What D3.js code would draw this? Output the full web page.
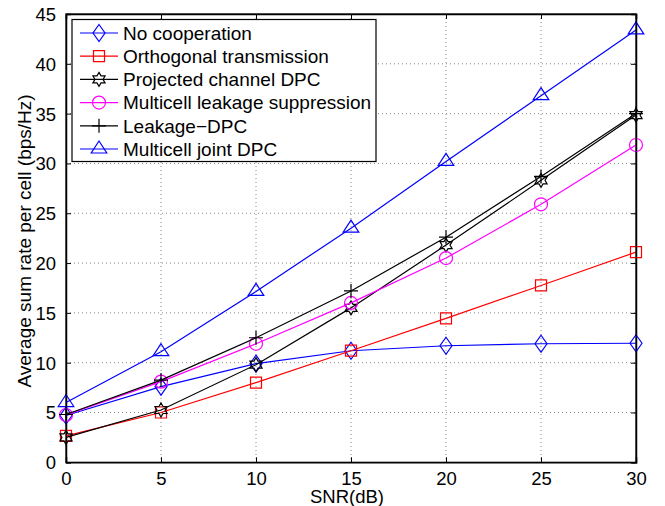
<!DOCTYPE html>
<html><head><meta charset="utf-8">
<script src="https://cdn.jsdelivr.net/npm/d3@7"></script>
<style>body{margin:0;background:#fff}svg{display:block}text{font-family:"Liberation Sans",Arial,sans-serif;fill:#000}</style>
</head><body>
<script>
const snr = [0, 5, 10, 15, 20, 25, 30];
const noCooperation = [4.7, 7.6, 9.9, 11.2, 11.7, 11.9, 11.95];
const orthogonal = [2.65, 5.0, 8.0, 11.2, 14.45, 17.75, 21.1];
const projectedDPC = [2.5, 5.25, 9.8, 15.5, 21.8, 28.3, 34.85];
const leakageSuppression = [4.75, 8.1, 11.9, 16.0, 20.5, 25.9, 31.85];
const leakageDPC = [4.8, 8.25, 12.5, 17.2, 22.6, 28.7, 35.0];
const jointDPC = [6.0, 11.1, 17.15, 23.5, 30.2, 36.8, 43.4];
const seriesNames = ["No cooperation","Orthogonal transmission","Projected channel DPC","Multicell leakage suppression","Leakage\u2212DPC","Multicell joint DPC"];
const xTicks = [0,5,10,15,20,25,30];
const yTicks = [0,5,10,15,20,25,30,35,40,45];

const W = 665, H = 506;
const L = 66, R = 636, T = 14, B = 462.3;
const svg = d3.select("body").append("svg").attr("width", W).attr("height", H);
const x = d3.scaleLinear().domain([0,30]).range([L,R]);
const y = d3.scaleLinear().domain([0,45]).range([B,T]);

// grid
const g = svg.append("g");
g.selectAll(".gx").data(xTicks.slice(1,-1)).enter().append("line")
  .attr("x1",d=>x(d)).attr("x2",d=>x(d)).attr("y1",T).attr("y2",B)
  .attr("stroke","#888").attr("stroke-width",1).attr("stroke-dasharray","1,3");
g.selectAll(".gy").data(yTicks.slice(1,-1)).enter().append("line")
  .attr("y1",d=>y(d)).attr("y2",d=>y(d)).attr("x1",L).attr("x2",R)
  .attr("stroke","#888").attr("stroke-width",1).attr("stroke-dasharray","1,3");

// axes
const fs = "18.5px";
const ax = svg.append("g").attr("transform",`translate(0,${B})`).call(d3.axisBottom(x).tickValues(xTicks).tickSize(-5).tickPadding(10));
const axT = svg.append("g").attr("transform",`translate(0,${T})`).call(d3.axisTop(x).tickValues(xTicks).tickSize(-5).tickFormat(""));
const ay = svg.append("g").attr("transform",`translate(${L},0)`).call(d3.axisLeft(y).tickValues(yTicks).tickSize(-5).tickPadding(10));
const ayR = svg.append("g").attr("transform",`translate(${R},0)`).call(d3.axisRight(y).tickValues(yTicks).tickSize(-5).tickFormat(""));
[ax,axT,ay,ayR].forEach(a=>{
  a.select(".domain").attr("stroke","#000").attr("stroke-width",1.5);
  a.selectAll(".tick line").attr("stroke","#000");
  a.selectAll("text").style("font-size",fs).style("font-family","'Liberation Sans',Arial,sans-serif").attr("fill","#000");
});
ax.selectAll("text").attr("dy","0.71em");
ay.selectAll("text").attr("dy","0.35em");

svg.append("text").attr("x",347).attr("y",503).attr("text-anchor","middle").style("font-size","18.5px").text("SNR(dB)");
svg.append("text").attr("transform","translate(31,241) rotate(-90)").attr("text-anchor","middle").style("font-size","19px").text("Average sum rate per cell (bps/Hz)");

// markers
function hexagram(r){
  const ri = r/Math.sqrt(3); let p=[];
  for(let i=0;i<12;i++){const a=-Math.PI/2+i*Math.PI/6; const rr=i%2?ri:r; p.push([rr*Math.cos(a), rr*Math.sin(a)]);}
  return "M"+p.map(q=>q[0].toFixed(2)+","+q[1].toFixed(2)).join("L")+"Z";
}
const markers = {
  diamond: "M0,-8.5L6,0L0,8.5L-6,0Z",
  square: "M-5.5,-5.5H5.5V5.5H-5.5Z",
  hexagram: hexagram(7),
  circle: d3.arc()({innerRadius:0,outerRadius:6.5,startAngle:0,endAngle:2*Math.PI}),
  plus: "M-7,0H7M0,-7V7",
  triangle: "M0,-8L7.8,4H-7.8Z"
};
const series = [
  {name:seriesNames[0], values:noCooperation, color:"#0000ff", marker:"diamond"},
  {name:seriesNames[1], values:orthogonal, color:"#ff0000", marker:"square"},
  {name:seriesNames[2], values:projectedDPC, color:"#000000", marker:"hexagram"},
  {name:seriesNames[3], values:leakageSuppression, color:"#ff00ff", marker:"circle"},
  {name:seriesNames[4], values:leakageDPC, color:"#000000", marker:"plus"},
  {name:seriesNames[5], values:jointDPC, color:"#0000ff", marker:"triangle"}
];
const line = d3.line().x((d,i)=>x(snr[i])).y(d=>y(d));
series.forEach(s=>{
  svg.append("path").attr("d",line(s.values)).attr("fill","none").attr("stroke",s.color).attr("stroke-width",1.2);
  svg.selectAll(null).data(s.values).enter().append("path")
    .attr("transform",(d,i)=>`translate(${x(snr[i])},${y(d)})`)
    .attr("d",markers[s.marker]).attr("fill","none").attr("stroke",s.color).attr("stroke-width",1.2);
});

// frame on top
svg.append("rect").attr("x",L).attr("y",T).attr("width",R-L).attr("height",B-T).attr("fill","none").attr("stroke","#000").attr("stroke-width",1.2);

// legend
const lg = svg.append("g");
lg.append("rect").attr("x",72).attr("y",19.5).attr("width",304).attr("height",142).attr("fill","#fff").attr("stroke","#000").attr("stroke-width",1.2);
series.forEach((s,i)=>{
  const yy = 33 + i*23.2;
  lg.append("line").attr("x1",80).attr("x2",118).attr("y1",yy).attr("y2",yy).attr("stroke",s.color).attr("stroke-width",1.2);
  lg.append("path").attr("transform",`translate(99,${yy})`).attr("d",markers[s.marker]).attr("fill","none").attr("stroke",s.color).attr("stroke-width",1.2);
  lg.append("text").attr("x",123).attr("y",yy).attr("dy","0.36em").style("font-size","19px").text(s.name);
});
</script>
</body></html>
